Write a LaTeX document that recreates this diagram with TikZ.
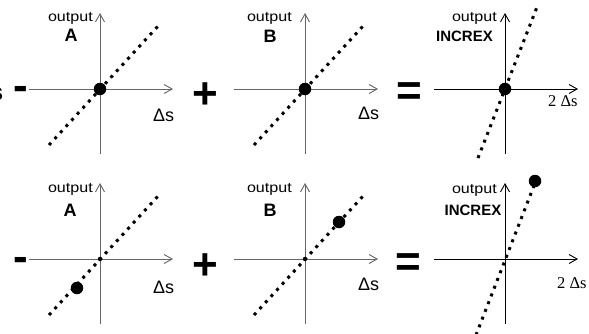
\documentclass[tikz,border=0pt]{standalone}
\usepackage{fontspec}
\usepackage{graphicx}
\setmainfont{Liberation Sans}
\newfontfamily\serifx{Liberation Serif}
\usetikzlibrary{arrows.meta}
\newcommand\mypanel[4]{%
  \begin{scope}[shift={(#2,#3)}]
    \coordinate (#1-o) at (0,0);
    \coordinate (#1-l) at (-71,0);
    \coordinate (#1-r) at (73,0);
    \coordinate (#1-b) at (0,65);
    \coordinate (#1-t) at (0,-76);
    \draw[axisline,draw=#4] (#1-l) -- (#1-r);
    \draw[axisline,draw=#4] (#1-b) -- (#1-t);
  \end{scope}}
\begin{document}
\begin{tikzpicture}[x=1pt,y=-1pt,
  axisline/.style={line width=0.9pt,-{Straight Barb[length=8pt,width=9pt]}},
  dotline/.style={line width=3pt,dash pattern=on 3pt off 5.3pt},
  bigdot/.style={circle,fill=black,inner sep=0pt,minimum size=12.5pt},
  smalldot/.style={circle,fill=black,inner sep=0pt,minimum size=4.5pt},
  outlbl/.style={font=\fontsize{14}{14}\selectfont,inner sep=0pt,anchor=base east},
  namelbl/.style={font=\bfseries\fontsize{18}{18}\selectfont,inner sep=0pt,anchor=base},
  inclbl/.style={font=\bfseries\fontsize{15}{15}\selectfont,inner sep=0pt,anchor=base},
  dslbl/.style={font=\fontsize{18}{18}\selectfont,inner sep=0pt,anchor=base west},
  ds2lbl/.style={font=\serifx\fontsize{16.5}{16.5}\selectfont,inner sep=0pt,anchor=base west},
  oplbl/.style={font=\bfseries\fontsize{44}{44}\selectfont,inner sep=0pt,anchor=center},
  minuslbl/.style={font=\bfseries\fontsize{44}{44}\selectfont,inner sep=0pt,anchor=base}
]
\useasboundingbox (0,0) rectangle (589,333);
\fill[white] (0,0) rectangle (589,333);

% panels
\mypanel{ta}{100}{89}{black!60}
\mypanel{tb}{305}{89}{black!60}
\mypanel{ti}{505}{89}{black}
\mypanel{ba}{100}{259}{black!60}
\mypanel{bb}{305}{259}{black!60}
\mypanel{bi}{505}{259}{black}

% dotted lines
\coordinate (ta-d1) at (49,145); \coordinate (ta-d2) at (159,25);
\coordinate (tb-d1) at (254,145); \coordinate (tb-d2) at (364,25);
\coordinate (ti-d1) at (478,158); \coordinate (ti-d2) at (537,7);
\coordinate (ba-d1) at (49,315); \coordinate (ba-d2) at (159,195);
\coordinate (bb-d1) at (254,315); \coordinate (bb-d2) at (364,195);
\coordinate (bi-d1) at (476,335); \coordinate (bi-d2) at (535,183);
\foreach \p in {ta,tb,ti,ba,bb,bi}{
  \draw[dotline] (\p-d1) -- (\p-d2);
}

% dots
\node[bigdot] (ta-dot) at (ta-o) {};
\node[bigdot] (tb-dot) at (tb-o) {};
\node[bigdot] (ti-dot) at (ti-o) {};
\node[smalldot] (ba-sdot) at (ba-o) {};
\node[smalldot] (bb-sdot) at (bb-o) {};
\node[bigdot] (ba-dot) at (77,288) {};
\node[bigdot] (bb-dot) at (339,222) {};
\node[bigdot] (bi-dot) at (535,181) {};

% output labels
\node[outlbl] (ta-out) at (93,21) {\scalebox{1.15}[1]{output}};
\node[outlbl] (tb-out) at (292,21) {\scalebox{1.15}[1]{output}};
\node[outlbl] (ti-out) at (497,21) {\scalebox{1.15}[1]{output}};
\node[outlbl] (ba-out) at (93,192) {\scalebox{1.15}[1]{output}};
\node[outlbl] (bb-out) at (292,192) {\scalebox{1.15}[1]{output}};
\node[outlbl] (bi-out) at (497,193) {\scalebox{1.15}[1]{output}};

% names
\node[namelbl] (ta-name) at (71,41) {A};
\node[namelbl] (tb-name) at (270,42) {B};
\node[inclbl] (ti-name) at (464.5,41.5) {INCREX};
\node[namelbl] (ba-name) at (70,216) {A};
\node[namelbl] (bb-name) at (270,216) {B};
\node[inclbl] (bi-name) at (473,215) {INCREX};

% x labels
\node[dslbl] (ta-ds) at (153,121) {Δs};
\node[dslbl] (tb-ds) at (358,119) {Δs};
\node[ds2lbl] (ti-ds) at (548,106) {2 Δs};
\node[dslbl] (ba-ds) at (153,293) {Δs};
\node[dslbl] (bb-ds) at (358,290) {Δs};
\node[ds2lbl] (bi-ds) at (557,288) {2 Δs};

% operators
\node[font=\bfseries\fontsize{24}{24}\selectfont,inner sep=0pt,anchor=base east] (cut-s) at (3.5,100) {s};
\node[minuslbl] (tm) at (20.5,100) {-};
\node[oplbl] (tp) at (205,96) {+};
\node[oplbl] (te) at (409,94) {=};
\node[minuslbl] (bm) at (20.5,271) {-};
\node[oplbl] (bp) at (205.5,267) {+};
\node[oplbl] (be) at (408,265) {=};
\end{tikzpicture}
\end{document}
